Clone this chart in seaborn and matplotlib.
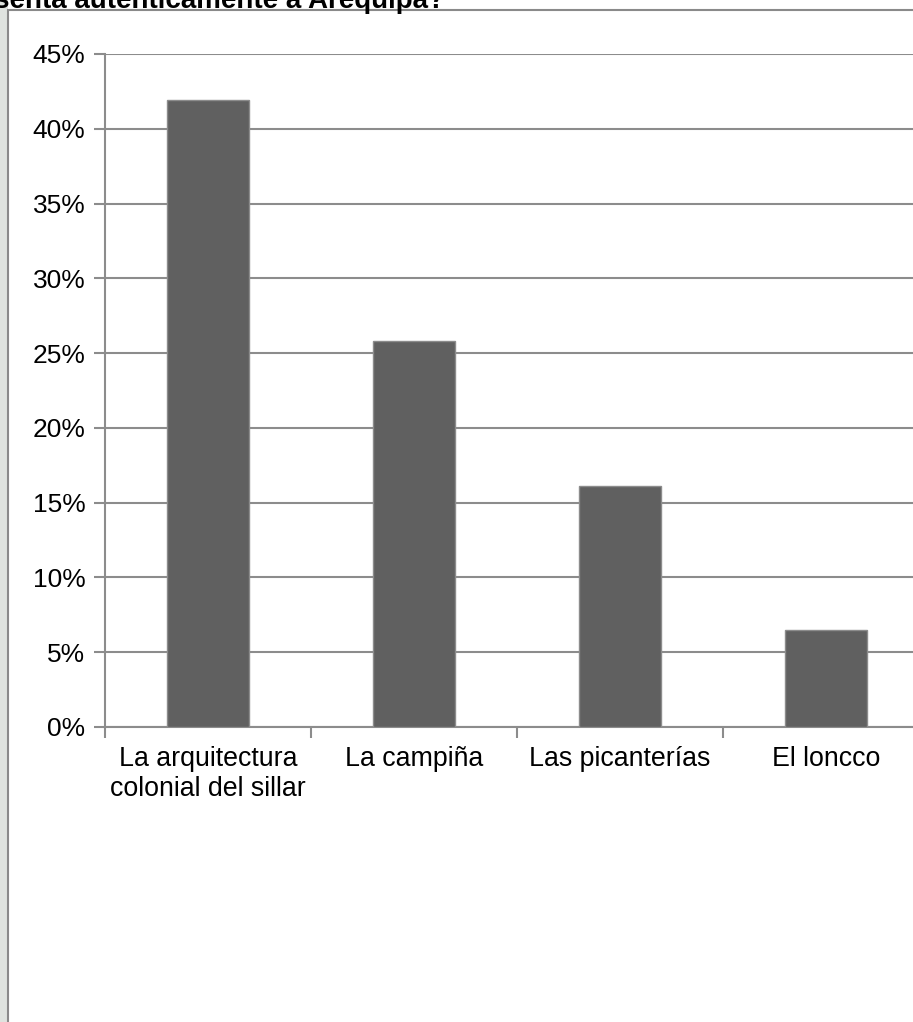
import matplotlib
matplotlib.use("Agg")
import matplotlib.pyplot as plt
import seaborn as sns
import pandas as pd
from matplotlib.patches import Rectangle
from matplotlib.ticker import FuncFormatter, FixedLocator

categories = ["La arquitectura\ncolonial del sillar", "La campiña", "Las picanterías", "El loncco"]
values = [0.419, 0.258, 0.161, 0.065]
yticks = [0, 0.05, 0.10, 0.15, 0.20, 0.25, 0.30, 0.35, 0.40, 0.45]
title = "¿Qué representa auténticamente a Arequipa?"

sns.set_theme(style="white")
plt.rcParams['font.family'] = ['Liberation Sans', 'DejaVu Sans']

W, H = 913, 1022
fig = plt.figure(figsize=(W / 100, H / 100), dpi=100)
fig.patch.set_facecolor("white")

# faint left strip (background watermark)
fig.patches.append(Rectangle((0, 0), 8 / W, 1, transform=fig.transFigure,
                             facecolor="#dfe3df", edgecolor="none", zorder=0))
# chart frame
fig.patches.append(Rectangle((8 / W, -0.01), 1.0, 1 - 10 / H + 0.01, transform=fig.transFigure,
                             facecolor="none", edgecolor="#8a8a8a", linewidth=1.5, zorder=1))

left, right = 105 / W, 929 / W
bottom, top = (H - 727) / H, (H - 54) / H
ax = fig.add_axes([left, bottom, right - left, top - bottom])
ax.set_facecolor("none")

df = pd.DataFrame({"cat": categories, "val": values})
sns.barplot(data=df, x="cat", y="val", color="#606060", width=0.4, saturation=1,
            edgecolor="#8c8c8c", linewidth=1.0, ax=ax, zorder=3)

ax.set_xlim(-0.5, 3.5)
ax.set_ylim(0, 0.45)
ax.set_yticks(yticks)
ax.yaxis.set_major_formatter(FuncFormatter(lambda v, p: f"{v*100:.0f}%"))
ax.grid(axis="y", color="#8c8c8c", linewidth=1.5, zorder=0)
ax.set_axisbelow(True)

for s in ["top", "right"]:
    ax.spines[s].set_visible(False)
ax.spines["left"].set_color("#8c8c8c")
ax.spines["left"].set_linewidth(1.5)
ax.spines["bottom"].set_color("#8c8c8c")
ax.spines["bottom"].set_linewidth(1.5)

ax.tick_params(axis="y", which="major", length=8, width=1.5, color="#8c8c8c",
               labelsize=19, labelcolor="black", pad=6, left=True)
ax.tick_params(axis="x", which="major", length=0, labelsize=19.3, labelcolor="black", pad=14)
ax.xaxis.set_minor_locator(FixedLocator([-0.5, 0.5, 1.5, 2.5]))
ax.tick_params(axis="x", which="minor", length=8, width=1.5, color="#8c8c8c", bottom=True)
ax.set_xlabel("")
ax.set_ylabel("")
for lbl in ax.get_xticklabels():
    lbl.set_linespacing(1.2)

fig.text(445 / W, 1 - 8.5 / H, title, ha="right", va="baseline",
         fontsize=20, fontweight="bold", color="black")

fig.savefig("out.png", dpi=100)
